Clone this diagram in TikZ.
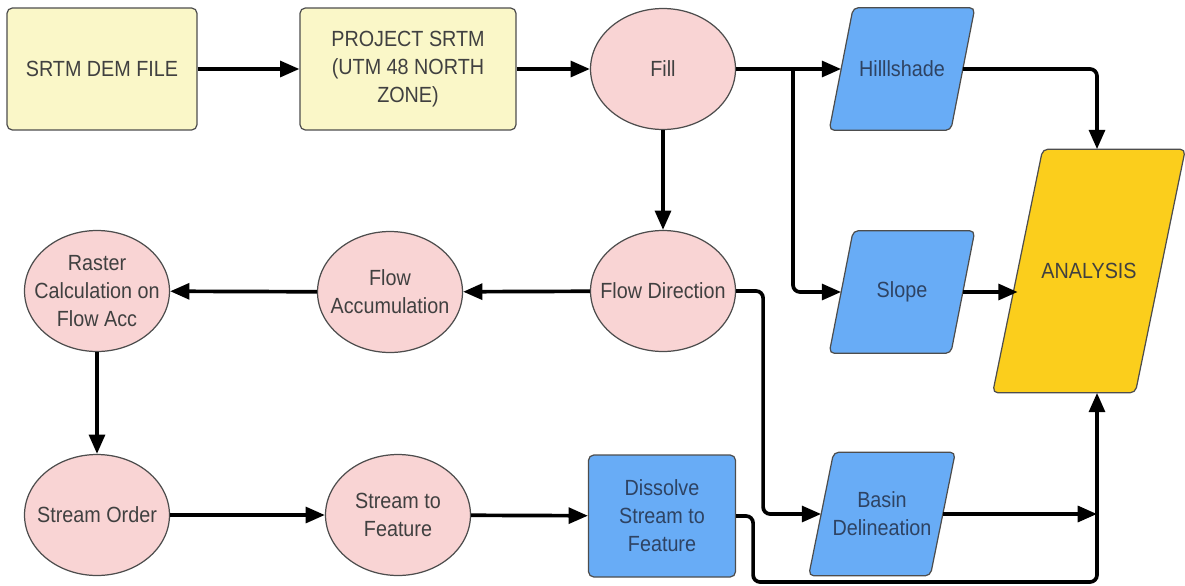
\documentclass[tikz,border=0pt]{standalone}
\usepackage{fontspec}
\setmainfont{Liberation Sans}[FakeStretch=0.9]
\usetikzlibrary{shapes.geometric,arrows.meta,backgrounds}

\definecolor{giallino}{HTML}{FAF7C8}
\definecolor{rosa}{HTML}{F9D4D4}
\definecolor{azzurro}{HTML}{68ACF6}
\definecolor{oro}{HTML}{FBCE1C}
\definecolor{bordo}{HTML}{4D4D4D}
\definecolor{grigio}{HTML}{404040}
\definecolor{bluscuro}{HTML}{2E4363}

% parallelogramma dietro un nodo: nome, colore, mezzo scarto
\newcommand{\parall}[3]{%
  \begin{scope}[on background layer]
    \draw[bordo, line width=0.7pt, fill=#2, rounded corners=3pt]
      ([xshift=-#3]#1.south west) -- ([xshift=#3]#1.north west) --
      ([xshift=#3]#1.north east) -- ([xshift=-#3]#1.south east) -- cycle;
  \end{scope}}

\begin{document}
\begin{tikzpicture}[x=0.02cm,y=-0.02cm,
    testo/.style={font=\fontsize{12.5}{16}\selectfont, text=grigio, align=center},
    scatola/.style={testo, draw=bordo, line width=0.7pt, rounded corners=3pt, fill=giallino, minimum height=2.44cm},
    cerchio/.style={testo, ellipse, draw=bordo, line width=0.7pt, fill=rosa, inner sep=-0.28cm, minimum width=2.9cm, minimum height=2.42cm},
    dato/.style={testo, text=bluscuro, minimum width=2.42cm, minimum height=2.44cm},
    freccia/.style={line width=2.1pt, rounded corners=4pt, -{Triangle[length=11pt,width=9pt]}}]
    \useasboundingbox (0,0) rectangle (1185,585);
    % Riga in alto
    \node[scatola, minimum width=3.8cm] (dem) at (102,69) {SRTM DEM FILE};
    \node[scatola, minimum width=4.32cm] (proj) at (408,69) {PROJECT SRTM\\(UTM 48 NORTH\\ZONE)};
    \node[cerchio] (fill) at (663,69) {Fill};
    \node[dato] (hill) at (902,69) {Hilllshade};
    \parall{hill}{azzurro}{0.24cm}
    % Riga centrale
    \node[cerchio] (fdir) at (663,291) {Flow Direction};
    \node[cerchio] (facc) at (390,292) {Flow\\Accumulation};
    \node[cerchio] (raster) at (97,291) {Raster\\Calculation on\\Flow Acc};
    \node[dato] (slope) at (902,292) {Slope};
    \parall{slope}{azzurro}{0.24cm}
    \node[dato, text=grigio, minimum width=2.84cm, minimum height=4.86cm] (anal) at (1089,271) {ANALYSIS};
    \parall{anal}{oro}{0.5cm}
    % Riga in basso
    \node[cerchio] (sord) at (97,515) {Stream Order};
    \node[cerchio] (sfeat) at (398,515) {Stream to\\Feature};
    \node[testo, text=bluscuro, draw=bordo, line width=0.7pt, rounded corners=3pt, fill=azzurro, minimum width=2.94cm, minimum height=2.44cm] (diss) at (662,516) {Dissolve\\Stream to\\Feature};
    \node[dato, minimum height=2.46cm] (basin) at (882,514) {Basin\\Delineation};
    \parall{basin}{azzurro}{0.25cm}
    % Punti di appoggio
    \coordinate (bivio) at (793,69);
    \coordinate (angolo) at (1097,582);
    % Frecce
    \draw[freccia] (dem) -- (proj);
    \draw[freccia] (proj.east) -- (fill.west);
    \draw[freccia] (fill.east) -- (hill.west);
    \draw[freccia] (bivio) |- (slope.west);
    \draw[freccia] (fill) -- (fdir);
    \draw[freccia] (hill.east) -| (anal.north -| angolo);
    \draw[freccia] (slope.east) -- (slope.east -| anal.west);
    \draw[freccia] (fdir) -- (facc);
    \draw[freccia] (facc) -- (raster);
    \draw[freccia] (raster) -- (sord);
    \draw[freccia] (sord) -- (sfeat);
    \draw[freccia] (sfeat) -- (diss);
    \draw[freccia] (fdir.east) -- ++(27,0) |- (basin.west);
    \draw[freccia] (basin.east) -- (basin.east -| angolo);
    \draw[freccia] (diss.east) -- ++(17,0) |- (angolo) -- (anal.south -| angolo);
\end{tikzpicture}
\end{document}
